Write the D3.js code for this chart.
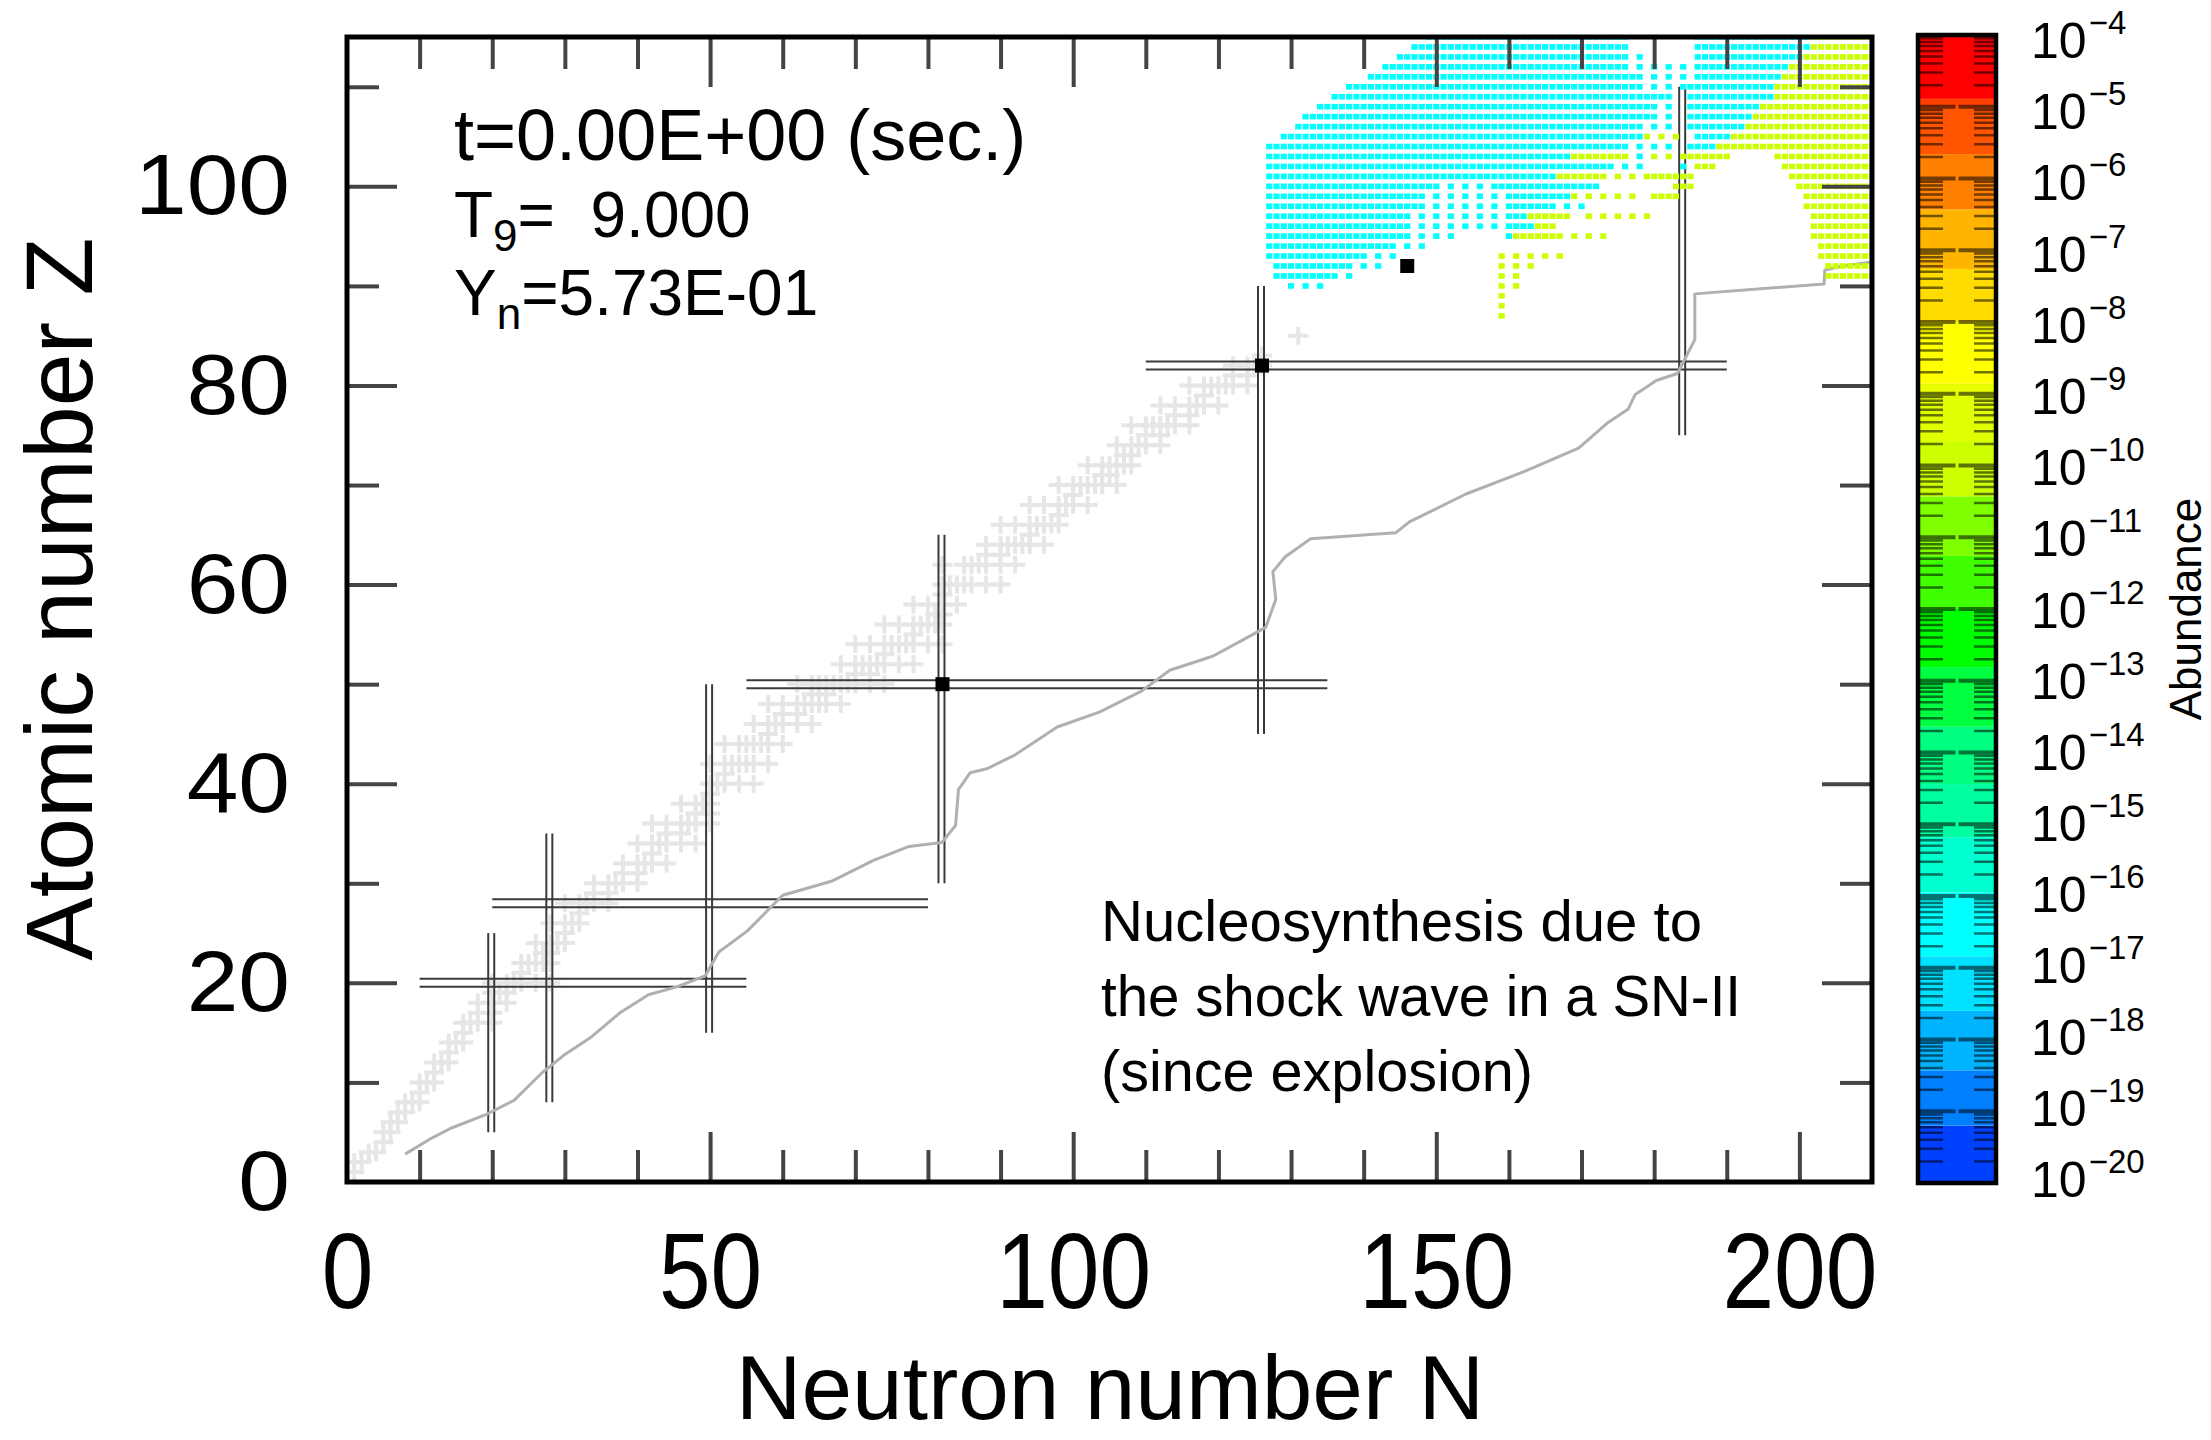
<!DOCTYPE html>
<html>
<head>
<meta charset="utf-8">
<script src="https://cdn.jsdelivr.net/npm/d3@7"></script>
<style>
  html, body { margin: 0; padding: 0; background: #ffffff; }
  svg { display: block; }
  text { font-family: "Liberation Sans", Arial, Helvetica, sans-serif; fill: #000; }
</style>
</head>
<body>
<svg id="chart" width="2211" height="1440"></svg>
<script>
// ---------- axis ticks and labels ----------
const xLabelTicks = [0, 50, 100, 150, 200];
const yLabelTicks = [0, 20, 40, 60, 80, 100];
const xMinorTicks = [10, 20, 30, 40, 60, 70, 80, 90, 110, 120, 130, 140, 160, 170, 180, 190];
const yMinorTicks = [10, 30, 50, 70, 90, 110];
const abundanceDecades = [-4, -5, -6, -7, -8, -9, -10, -11, -12, -13, -14, -15, -16, -17, -18, -19, -20];

// ---------- colour bar: band boundaries (log10 abundance) and colours, bottom to top ----------
const colorBandBounds = [-19.2, -18.43, -17.6, -16.84, -15.95, -15.18, -14.44, -13.64, -12.81, -12.0,
                         -11.26, -10.43, -9.66, -8.99, -8.86, -8.0, -7.26, -6.43, -5.66, -4.99, -4.89];
const colorBandColors = ["#0040ff", "#0080ff", "#00b4ff", "#00e0ff", "#00ffff", "#00ffd0", "#00ffa0",
                         "#00ff80", "#00ff40", "#00ff00", "#40ff00", "#80ff00", "#ccff00", "#e0ff00",
                         "#e8ff00", "#ffff00", "#ffdc00", "#ffb400", "#ff8000", "#ff5500", "#ff4000", "#ff0000"];

// ---------- stable nuclides: [Z, [N ...]] ----------
const stableNuclides = [
  [1, [0, 1]], [2, [1, 2]], [3, [3, 4]], [4, [5]], [5, [5, 6]], [6, [6, 7]], [7, [7, 8]],
  [8, [8, 9, 10]], [9, [10]], [10, [10, 11, 12]], [11, [12]], [12, [12, 13, 14]], [13, [14]],
  [14, [14, 15, 16]], [15, [16]], [16, [16, 17, 18, 20]], [17, [18, 20]], [18, [18, 20, 22]],
  [19, [20, 21, 22]], [20, [20, 22, 23, 24, 26, 28]], [21, [24]], [22, [24, 25, 26, 27, 28]],
  [23, [27, 28]], [24, [26, 28, 29, 30]], [25, [30]], [26, [28, 30, 31, 32]], [27, [32]],
  [28, [30, 32, 33, 34, 36]], [29, [34, 36]], [30, [34, 36, 37, 38, 40]], [31, [38, 40]],
  [32, [38, 40, 41, 42, 44]], [33, [42]], [34, [40, 42, 43, 44, 46, 48]], [35, [44, 46]],
  [36, [42, 44, 46, 47, 48, 50]], [37, [48, 50]], [38, [46, 48, 49, 50]], [39, [50]],
  [40, [50, 51, 52, 54, 56]], [41, [52]], [42, [50, 52, 53, 54, 55, 56, 58]],
  [44, [52, 54, 55, 56, 57, 58, 60]], [45, [58]], [46, [56, 58, 59, 60, 62, 64]], [47, [60, 62]],
  [48, [58, 60, 62, 63, 64, 65, 66, 68]], [49, [64, 66]], [50, [62, 64, 65, 66, 67, 68, 69, 70, 72, 74]],
  [51, [70, 72]], [52, [68, 70, 71, 72, 73, 74, 76, 78]], [53, [74]],
  [54, [70, 72, 74, 75, 76, 77, 78, 80, 82]], [55, [78]], [56, [74, 76, 78, 79, 80, 81, 82]],
  [57, [81, 82]], [58, [78, 80, 82, 84]], [59, [82]], [60, [82, 83, 84, 85, 86, 88, 90]],
  [62, [82, 85, 86, 87, 88, 90, 92]], [63, [88, 90]], [64, [88, 90, 91, 92, 93, 94, 96]], [65, [94]],
  [66, [90, 92, 94, 95, 96, 97, 98]], [67, [98]], [68, [94, 96, 98, 99, 100, 102]], [69, [100]],
  [70, [98, 100, 101, 102, 103, 104, 106]], [71, [104, 105]], [72, [102, 104, 105, 106, 107, 108]],
  [73, [107, 108]], [74, [106, 108, 109, 110, 112]], [75, [110, 112]],
  [76, [108, 110, 111, 112, 113, 114, 116]], [77, [114, 116]], [78, [112, 114, 116, 117, 118, 120]],
  [79, [118]], [80, [116, 118, 119, 120, 121, 122, 124]], [81, [122, 124]], [82, [122, 124, 125, 126]],
  [83, [126]], [85, [131]]
];

// ---------- neutron drip line (N, Z) ----------
const dripN = [8, 11.4, 14.3, 19.2, 23, 26.9, 29.8, 33.7, 37.6, 41.5, 45.4, 49.3, 51.2, 55.1, 60, 66.7,
               72.5, 77.4, 81.9, 83.8, 84.2, 85.8, 88.1, 92, 97.8, 103.6, 109.4, 113.3, 119.2, 123, 126.5,
               127.9, 127.5, 129.2, 132.7, 144.4, 146.3, 154.1, 161.9, 169.6, 173.5, 176.4, 177.4, 180.3,
               183.2, 185.6, 185.6, 203.4, 203.5, 206, 210];
const dripZ = [2.8, 4.3, 5.4, 6.8, 8.2, 11, 12.7, 14.6, 17, 18.8, 19.6, 20.7, 23.1, 25.2, 28.8, 30.2,
               32.3, 33.7, 34.1, 35.8, 39.4, 41.1, 41.5, 42.9, 45.7, 47.2, 49.3, 51.4, 52.8, 54.3, 55.7,
               58.5, 61.3, 62.8, 64.6, 65.2, 66.3, 69.1, 71.3, 73.7, 76.2, 77.6, 79.1, 80.5,
               81.2, 84.6, 89.2, 90.2, 91.6, 92.0, 92.4];

// ---------- magic numbers and the span of their guide lines ----------
const magicN = [20, 28, 50, 82, 126, 184];
const magicNSpanZ = [[5, 25], [8, 35], [15, 50], [30, 65], [45, 90], [75, 110]];
const magicZ = [20, 28, 50, 82];
const magicZSpanN = [[10, 55], [20, 80], [55, 135], [110, 190]];

// ---------- marked nuclei ----------
const markedN = [82, 126, 146];
const markedZ = [50, 82, 92];

// ---------- abundances at t = 0: row segments [Z, Nfirst, Nlast] ----------
const cyanLogY = -16.4;
const cyanRows = [
  [115, 149, 176], [115, 186, 201],
  [114, 147, 176], [114, 186, 201],
  [113, 145, 176], [113, 178, 178], [113, 186, 200],
  [112, 143, 176], [112, 178, 178], [112, 180, 180], [112, 182, 182], [112, 184, 184], [112, 186, 198],
  [111, 141, 178], [111, 180, 180], [111, 182, 182], [111, 184, 184], [111, 186, 197],
  [110, 138, 178], [110, 180, 180], [110, 182, 182], [110, 184, 196],
  [109, 136, 182], [109, 185, 196],
  [108, 134, 180], [108, 182, 182], [108, 185, 194],
  [107, 132, 180], [107, 182, 182], [107, 185, 193],
  [106, 131, 178], [106, 180, 180], [106, 182, 182], [106, 185, 192],
  [105, 129, 178], [105, 186, 190],
  [104, 127, 176], [104, 178, 178], [104, 180, 180], [104, 182, 182], [104, 185, 188],
  [103, 127, 168], [103, 178, 178],
  [102, 127, 174], [102, 176, 176], [102, 178, 178], [102, 184, 184],
  [101, 127, 166],
  [100, 127, 150], [100, 152, 152], [100, 154, 154], [100, 156, 156], [100, 158, 172],
  [99, 127, 148], [99, 150, 150], [99, 152, 152], [99, 154, 154], [99, 156, 156], [99, 158, 158], [99, 160, 168],
  [98, 127, 148], [98, 150, 150], [98, 152, 152], [98, 154, 154], [98, 156, 156], [98, 158, 158], [98, 160, 166],
  [98, 168, 168], [98, 170, 170],
  [97, 127, 146], [97, 148, 148], [97, 150, 150], [97, 152, 152], [97, 154, 154], [97, 156, 156], [97, 158, 158],
  [97, 160, 162],
  [96, 127, 146], [96, 148, 148], [96, 150, 150], [96, 152, 152], [96, 154, 154], [96, 156, 156], [96, 158, 158],
  [96, 160, 163],
  [95, 127, 146], [95, 148, 148], [95, 150, 150], [95, 152, 152], [95, 160, 160],
  [94, 127, 144], [94, 146, 146], [94, 148, 148],
  [93, 127, 140], [93, 142, 142], [93, 144, 144],
  [92, 128, 138], [92, 140, 140], [92, 142, 142],
  [91, 128, 136], [91, 138, 138],
  [90, 130, 130], [90, 132, 132], [90, 134, 134]
];
const greenLogY = -10.0;
const greenRows = [
  [115, 202, 210], [114, 202, 210], [113, 201, 210], [112, 199, 210], [111, 198, 210], [110, 197, 210],
  [109, 197, 210], [108, 195, 210], [107, 194, 210], [106, 193, 210],
  [105, 179, 179], [105, 181, 181], [105, 183, 183], [105, 191, 210],
  [104, 189, 210],
  [103, 169, 176], [103, 180, 180], [103, 182, 182], [103, 184, 190], [103, 197, 210],
  [102, 186, 188], [102, 198, 210],
  [101, 167, 173], [101, 175, 175], [101, 177, 177], [101, 179, 185], [101, 199, 210],
  [100, 183, 185], [100, 200, 210],
  [99, 169, 169], [99, 171, 171], [99, 173, 173], [99, 175, 175], [99, 177, 177], [99, 180, 183], [99, 201, 210],
  [98, 201, 210],
  [97, 163, 168], [97, 171, 171], [97, 173, 173], [97, 175, 175], [97, 177, 177], [97, 179, 179], [97, 202, 210],
  [96, 164, 166], [96, 202, 210],
  [95, 161, 167], [95, 169, 169], [95, 171, 171], [95, 173, 173], [95, 202, 210],
  [94, 203, 210],
  [93, 159, 159], [93, 161, 161], [93, 163, 163], [93, 165, 165], [93, 167, 167], [93, 203, 210],
  [92, 159, 159], [92, 161, 161], [92, 163, 163], [92, 204, 210],
  [91, 159, 159], [91, 161, 161], [91, 204, 210],
  [90, 159, 159], [90, 161, 161],
  [89, 159, 159], [88, 159, 159], [87, 159, 159]
];

// ================= drawing =================
const svg = d3.select("#chart");

const x = d3.scaleLinear().domain([0, 210]).range([347, 1872]);
const y = d3.scaleLinear().domain([0, 115]).range([1182, 37]);
const bandColor = d3.scaleThreshold().domain(colorBandBounds).range(colorBandColors);

svg.append("defs").append("clipPath").attr("id", "plot-area")
  .append("rect")
  .attr("x", x(0)).attr("y", y(115))
  .attr("width", x(210) - x(0)).attr("height", y(0) - y(115));

const plot = svg.append("g").attr("clip-path", "url(#plot-area)");

// valley of stability: light grey crosses
const stablePts = stableNuclides.flatMap(([z, ns]) => ns.map(n => [n, z]));
plot.append("g")
  .attr("stroke", "#e6e6e6").attr("stroke-width", 4).attr("fill", "none")
  .selectAll("path").data(stablePts).join("path")
  .attr("d", d => `M${x(d[0]) - 10},${y(d[1])}h20M${x(d[0])},${y(d[1]) - 9}v18`);

// magic-number guide lines (pairs of thin lines)
const guides = plot.append("g").attr("stroke", "#3a3a3a").attr("stroke-width", 2);
magicN.forEach((m, i) => {
  const [z0, z1] = magicNSpanZ[i];
  [-3, 3].forEach(off => guides.append("line")
    .attr("x1", x(m) - 1 + off).attr("x2", x(m) - 1 + off)
    .attr("y1", y(z0)).attr("y2", y(z1)));
});
magicZ.forEach((m, i) => {
  const [n0, n1] = magicZSpanN[i];
  [-4, 4].forEach(off => guides.append("line")
    .attr("x1", x(n0)).attr("x2", x(n1))
    .attr("y1", y(m) + off).attr("y2", y(m) + off));
});

// neutron drip line
plot.append("path")
  .datum(d3.zip(dripN, dripZ))
  .attr("fill", "none").attr("stroke", "#b0b0b0").attr("stroke-width", 3)
  .attr("stroke-linejoin", "round")
  .attr("d", d3.line().x(d => x(d[0])).y(d => y(d[1])));

// abundance cells
function drawCells(rows, logY) {
  const cells = rows.flatMap(([z, n0, n1]) => d3.range(n0, n1 + 1).map(n => [n, z]));
  plot.append("g").attr("fill", bandColor(logY))
    .selectAll("rect").data(cells).join("rect")
    .attr("x", d => x(d[0]) - 3.1).attr("y", d => y(d[1]) - 2.8)
    .attr("width", 6.2).attr("height", 5.6);
}
drawCells(cyanRows, cyanLogY);
drawCells(greenRows, greenLogY);

// marked nuclei
plot.append("g").selectAll("rect").data(d3.zip(markedN, markedZ)).join("rect")
  .attr("x", d => x(d[0]) - 7).attr("y", d => y(d[1]) - 7)
  .attr("width", 14).attr("height", 14).attr("fill", "#000");

// ---------- frame and ticks ----------
function styleTicks(g) {
  g.select(".domain").remove();
  g.selectAll(".tick line").attr("stroke", "#444").attr("stroke-width", 4);
}
const majorX = xLabelTicks.filter(v => v > 0 && v < 210);
const majorY = yLabelTicks.filter(v => v > 0 && v < 115);
const axesG = svg.append("g");
// bottom (ticks pointing up into the plot)
axesG.append("g").attr("transform", `translate(0,${y(0)})`)
  .call(d3.axisTop(x).tickValues(xMinorTicks).tickSize(32).tickFormat("")).call(styleTicks);
axesG.append("g").attr("transform", `translate(0,${y(0)})`)
  .call(d3.axisTop(x).tickValues(majorX).tickSize(50).tickFormat("")).call(styleTicks);
// top
axesG.append("g").attr("transform", `translate(0,${y(115)})`)
  .call(d3.axisBottom(x).tickValues(xMinorTicks).tickSize(32).tickFormat("")).call(styleTicks);
axesG.append("g").attr("transform", `translate(0,${y(115)})`)
  .call(d3.axisBottom(x).tickValues(majorX).tickSize(50).tickFormat("")).call(styleTicks);
// left
axesG.append("g").attr("transform", `translate(${x(0)},0)`)
  .call(d3.axisRight(y).tickValues(yMinorTicks).tickSize(32).tickFormat("")).call(styleTicks);
axesG.append("g").attr("transform", `translate(${x(0)},0)`)
  .call(d3.axisRight(y).tickValues(majorY).tickSize(50).tickFormat("")).call(styleTicks);
// right
axesG.append("g").attr("transform", `translate(${x(210)},0)`)
  .call(d3.axisLeft(y).tickValues(yMinorTicks).tickSize(32).tickFormat("")).call(styleTicks);
axesG.append("g").attr("transform", `translate(${x(210)},0)`)
  .call(d3.axisLeft(y).tickValues(majorY).tickSize(50).tickFormat("")).call(styleTicks);

svg.append("rect")
  .attr("x", x(0)).attr("y", y(115))
  .attr("width", x(210) - x(0)).attr("height", y(0) - y(115))
  .attr("fill", "none").attr("stroke", "#000").attr("stroke-width", 5);

// tick labels
const xLab = svg.append("g").attr("transform", `translate(0,${y(0)})`)
  .call(d3.axisBottom(x).tickValues(xLabelTicks).tickSize(0).tickPadding(49).tickFormat(d3.format("d")));
xLab.select(".domain").remove();
xLab.selectAll("text").attr("font-size", 108).attr("font-family", "Liberation Sans, Arial, sans-serif")
  .attr("fill", "#000").attr("transform", "scale(0.86,1)");

const yLab = svg.append("g").attr("transform", `translate(${x(0)},0)`)
  .call(d3.axisLeft(y).tickValues(yLabelTicks).tickSize(0).tickPadding(57).tickFormat(d3.format("d")));
yLab.select(".domain").remove();
yLab.selectAll("text").attr("font-size", 86).attr("font-family", "Liberation Sans, Arial, sans-serif")
  .attr("fill", "#000").attr("x", -57 / 1.08).attr("transform", "scale(1.08,1)");

// axis titles
svg.append("text")
  .attr("transform", "translate(92,599) rotate(-90)")
  .attr("text-anchor", "middle").attr("font-size", 95)
  .text("Atomic number Z");
svg.append("text")
  .attr("x", 1110).attr("y", 1419)
  .attr("text-anchor", "middle").attr("font-size", 91)
  .text("Neutron number N");

// run state
const info = svg.append("g");
info.append("text").attr("x", 454).attr("y", 160).attr("font-size", 72).text("t=0.00E+00 (sec.)");
const t9 = info.append("text").attr("x", 454).attr("y", 237).attr("font-size", 64);
t9.append("tspan").text("T");
t9.append("tspan").attr("font-size", 44).attr("dy", 14).text("9");
t9.append("tspan").attr("dy", -14).text("=\u00a0\u00a09.000");
const yn = info.append("text").attr("x", 454).attr("y", 315).attr("font-size", 64);
yn.append("tspan").text("Y");
yn.append("tspan").attr("font-size", 44).attr("dy", 14).text("n");
yn.append("tspan").attr("dy", -14).text("=5.73E-01");

// annotation
const note = ["Nucleosynthesis due to", "the shock wave in a SN-II", "(since explosion)"];
const noteWidths = [601, 640, 432];
svg.append("g").selectAll("text").data(note).join("text")
  .attr("x", 1101).attr("y", (d, i) => 941 + i * 75)
  .attr("font-family", "Lato, 'Open Sans', sans-serif").attr("font-size", 57)
  .attr("textLength", (d, i) => noteWidths[i]).attr("lengthAdjust", "spacingAndGlyphs")
  .text(d => d);

// ---------- colour bar ----------
const cb = { x0: 1920, x1: 1994, top: 35, bottom: 1183 };
const e = d3.scaleLinear().domain([-4, -20]).range([cb.top, cb.bottom]);
const eLabel = d3.scaleLinear().domain([-4, -20]).range([40, 1179]);
const bandEdges = [-20, ...colorBandBounds, -4];
const bar = svg.append("g");
bar.selectAll("rect.band").data(d3.range(bandEdges.length - 1)).join("rect")
  .attr("class", "band")
  .attr("x", cb.x0).attr("width", cb.x1 - cb.x0)
  .attr("y", i => e(bandEdges[i + 1])).attr("height", i => e(bandEdges[i]) - e(bandEdges[i + 1]))
  .attr("fill", i => colorBandColors[i]);

// minor stripes at k x 10^d, k = 2..9
const minorPos = abundanceDecades.slice(1).flatMap(d => d3.range(2, 10).map(k => d + Math.log10(k)));
const midX = (cb.x0 + cb.x1) / 2;
const stripes = bar.append("g").attr("stroke", "#000").attr("stroke-opacity", 0.55);
stripes.selectAll("path.minor").data(minorPos).join("path").attr("class", "minor")
  .attr("stroke-width", 2.5)
  .attr("d", v => `M${cb.x0},${e(v)}H${cb.x0 + 23}M${cb.x1 - 20},${e(v)}H${cb.x1}`);
stripes.selectAll("path.major").data(abundanceDecades.slice(1, -1)).join("path").attr("class", "major")
  .attr("stroke-width", 4)
  .attr("d", v => `M${cb.x0},${e(v)}H${midX - 1.5}M${midX + 1.5},${e(v)}H${cb.x1}`);

bar.append("rect")
  .attr("x", cb.x0 - 2).attr("y", cb.top)
  .attr("width", cb.x1 - cb.x0 + 4).attr("height", cb.bottom - cb.top)
  .attr("fill", "none").attr("stroke", "#000").attr("stroke-width", 4.5);

const cbLab = bar.append("g").selectAll("text").data(abundanceDecades).join("text")
  .attr("x", 2031).attr("y", d => eLabel(d) + 18).attr("font-size", 50);
cbLab.append("tspan").text("10");
cbLab.append("tspan").attr("font-size", 33).attr("dy", -24).attr("dx", 2).text(d => "\u2212" + Math.abs(d));

svg.append("text")
  .attr("transform", "translate(2201,609) rotate(-90)")
  .attr("text-anchor", "middle").attr("font-size", 44)
  .text("Abundance");
</script>
</body>
</html>
